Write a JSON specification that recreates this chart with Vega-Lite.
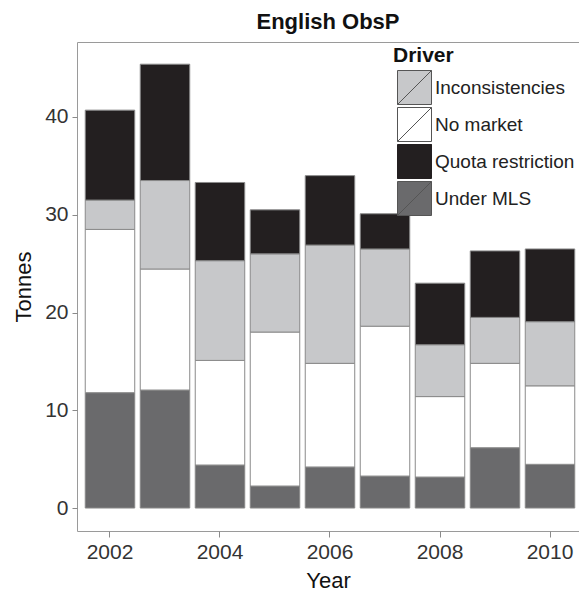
{
  "$schema": "https://vega.github.io/schema/vega-lite/v6.json",
  "autosize": {"type": "none"},
  "width": 502,
  "height": 489,
  "padding": {"left": 77, "top": 42, "right": 0, "bottom": 62},
  "background": "white",
  "title": {"text": "English ObsP", "font": "Liberation Sans", "fontSize": 22, "fontWeight": "bold", "color": "#111111", "anchor": "middle", "offset": 8},
  "config": {
    "view": {"stroke": "#9a9a9a", "strokeWidth": 1},
    "axis": {"grid": false, "domain": false, "tickColor": "#8a8a8a", "tickSize": 5, "labelFont": "Liberation Sans", "labelFontSize": 21, "labelColor": "#333333", "titleFont": "Liberation Sans", "titleFontSize": 22, "titleFontWeight": "normal", "titleColor": "#111111"}
  },
  "data": {"values": [
    {"Year": 2002, "Driver": "Under MLS", "Tonnes": 11.8},
    {"Year": 2002, "Driver": "No market", "Tonnes": 16.7},
    {"Year": 2002, "Driver": "Inconsistencies", "Tonnes": 3.0},
    {"Year": 2002, "Driver": "Quota restriction", "Tonnes": 9.2},
    {"Year": 2003, "Driver": "Under MLS", "Tonnes": 12.07},
    {"Year": 2003, "Driver": "No market", "Tonnes": 12.38},
    {"Year": 2003, "Driver": "Inconsistencies", "Tonnes": 9.05},
    {"Year": 2003, "Driver": "Quota restriction", "Tonnes": 11.9},
    {"Year": 2004, "Driver": "Under MLS", "Tonnes": 4.4},
    {"Year": 2004, "Driver": "No market", "Tonnes": 10.7},
    {"Year": 2004, "Driver": "Inconsistencies", "Tonnes": 10.2},
    {"Year": 2004, "Driver": "Quota restriction", "Tonnes": 8.0},
    {"Year": 2005, "Driver": "Under MLS", "Tonnes": 2.25},
    {"Year": 2005, "Driver": "No market", "Tonnes": 15.75},
    {"Year": 2005, "Driver": "Inconsistencies", "Tonnes": 8.0},
    {"Year": 2005, "Driver": "Quota restriction", "Tonnes": 4.5},
    {"Year": 2006, "Driver": "Under MLS", "Tonnes": 4.2},
    {"Year": 2006, "Driver": "No market", "Tonnes": 10.6},
    {"Year": 2006, "Driver": "Inconsistencies", "Tonnes": 12.1},
    {"Year": 2006, "Driver": "Quota restriction", "Tonnes": 7.1},
    {"Year": 2007, "Driver": "Under MLS", "Tonnes": 3.27},
    {"Year": 2007, "Driver": "No market", "Tonnes": 15.33},
    {"Year": 2007, "Driver": "Inconsistencies", "Tonnes": 7.9},
    {"Year": 2007, "Driver": "Quota restriction", "Tonnes": 3.6},
    {"Year": 2008, "Driver": "Under MLS", "Tonnes": 3.17},
    {"Year": 2008, "Driver": "No market", "Tonnes": 8.23},
    {"Year": 2008, "Driver": "Inconsistencies", "Tonnes": 5.3},
    {"Year": 2008, "Driver": "Quota restriction", "Tonnes": 6.3},
    {"Year": 2009, "Driver": "Under MLS", "Tonnes": 6.17},
    {"Year": 2009, "Driver": "No market", "Tonnes": 8.63},
    {"Year": 2009, "Driver": "Inconsistencies", "Tonnes": 4.7},
    {"Year": 2009, "Driver": "Quota restriction", "Tonnes": 6.8},
    {"Year": 2010, "Driver": "Under MLS", "Tonnes": 4.47},
    {"Year": 2010, "Driver": "No market", "Tonnes": 8.03},
    {"Year": 2010, "Driver": "Inconsistencies", "Tonnes": 6.56},
    {"Year": 2010, "Driver": "Quota restriction", "Tonnes": 7.44}
  ]},
  "transform": [
    {"calculate": "indexof(['Under MLS','No market','Inconsistencies','Quota restriction'], datum.Driver)", "as": "stackOrder"}
  ],
  "mark": {"type": "bar", "stroke": "#8a8a8a", "strokeWidth": 1},
  "encoding": {
    "x": {
      "field": "Year", "type": "ordinal",
      "scale": {"paddingInner": 0.1, "paddingOuter": 0.1136, "align": 0.66},
      "axis": {"values": [2002, 2004, 2006, 2008, 2010], "labelAngle": 0, "tickSize": 6, "labelPadding": 4, "titlePadding": 8, "title": "Year"}
    },
    "y": {
      "field": "Tonnes", "type": "quantitative", "stack": "zero",
      "scale": {"domain": [-2.35, 47.67], "nice": false, "zero": false},
      "axis": {"values": [0, 10, 20, 30, 40], "labelPadding": 4, "titlePadding": 9, "title": "Tonnes"}
    },
    "color": {
      "field": "Driver", "type": "nominal",
      "scale": {"domain": ["Inconsistencies", "No market", "Quota restriction", "Under MLS"], "range": ["#c7c8ca", "#ffffff", "#231f20", "#6a6a6c"]},
      "legend": {
        "orient": "none", "legendX": 316, "legendY": 3, "padding": 0,
        "title": "Driver", "titleFont": "Liberation Sans", "titleFontSize": 21, "titleFontWeight": "bold", "titleColor": "#111111", "titlePadding": 4,
        "labelFont": "Liberation Sans", "labelFontSize": 19, "labelColor": "#222222", "labelOffset": 3,
        "symbolType": "M-1,-1H1V1H-1Z M-1,1L1,-1", "symbolSize": 1156, "symbolStrokeWidth": 1, "symbolStrokeColor": "#555555", "symbolOffset": 4,
        "rowPadding": -5,
        "encode": {"symbols": {"update": {"stroke": {"signal": "datum.value === 'Quota restriction' ? '#231f20' : '#555555'"}}}}
      }
    },
    "order": {"field": "stackOrder", "type": "quantitative", "sort": "ascending"}
  }
}
